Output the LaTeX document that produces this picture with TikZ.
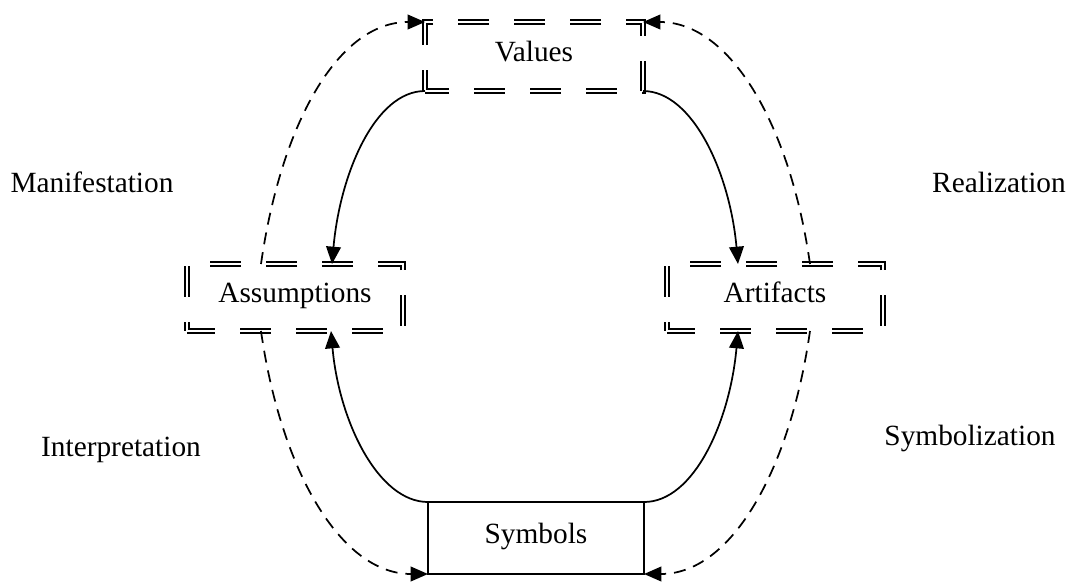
\documentclass[tikz,border=0pt]{standalone}
\usepackage{fontspec}
\setmainfont{Liberation Serif}
\usetikzlibrary{arrows.meta,calc}
\begin{document}
\begin{tikzpicture}[x=0.75pt,y=-0.75pt,
  txt/.style={font=\fontsize{22pt}{26pt}\selectfont},
  dbox/.style={txt,draw,double,line width=1.4pt,double distance=1.3pt,
    dash pattern=on 23.25pt off 18.75pt,inner sep=0pt,outer sep=0pt,
    minimum width=162pt,minimum height=50.25pt,text height=15pt,text depth=7.5pt},
  sbox/.style={txt,draw,line width=1.4pt,inner sep=0pt,outer sep=0pt,
    minimum width=162pt,minimum height=54pt,text height=15pt,text depth=7.5pt},
  lbl/.style={txt,inner sep=0pt,anchor=base},
  solidarrow/.style={line width=1.3pt,-{Triangle[length=13pt,width=11pt]}},
  dasharrow/.style={line width=1.3pt,dash pattern=on 9pt off 6pt,-{Triangle[length=13pt,width=11pt]}}
]
\useasboundingbox (0,0) rectangle (1076,583);

\node[dbox,minimum width=163.5pt,minimum height=51.75pt,dash phase=5.25pt] (val) at (534,56.5) {Values};
\node[dbox,dash phase=2.25pt] (asm) at (295,297.5) {Assumptions};
\node[dbox,dash phase=2.25pt] (art) at (775,297.5) {Artifacts};
\node[sbox] (sym) at (536,538) {Symbols};

\node[lbl] (man) at (92,192) {Manifestation};
\node[lbl] (rea) at (999,192) {Realization};
\node[lbl] (int) at (121,456) {Interpretation};
\node[lbl] (sbz) at (970,445) {Symbolization};

% solid connectors
\draw[solidarrow] (val.south west) .. controls +(-50,0) and +(8,-90) .. ($(asm.north)+(37,0)$);
\draw[solidarrow] (val.south east) .. controls +(50,0) and +(-8,-90) .. ($(art.north)+(-37,0)$);
\draw[solidarrow] (sym.north west) .. controls +(-50,0) and +(8,90) .. ($(asm.south)+(36,0)$);
\draw[solidarrow] (sym.north east) .. controls +(50,0) and +(-8,90) .. ($(art.south)+(-37,0)$);

% dashed connectors
\draw[dasharrow] ($(asm.north)+(-34,0)$) .. controls +(20,-140) and +(-87,0) .. (val.north west);
\draw[dasharrow] ($(art.north)+(35,0)$) .. controls +(-20,-140) and +(87,0) .. (val.north east);
\draw[dasharrow] ($(asm.south)+(-34,0)$) .. controls +(20,140) and +(-87,0) .. (sym.south west);
\draw[dasharrow] ($(art.south)+(35,0)$) .. controls +(-20,140) and +(87,0) .. (sym.south east);
\end{tikzpicture}
\end{document}
